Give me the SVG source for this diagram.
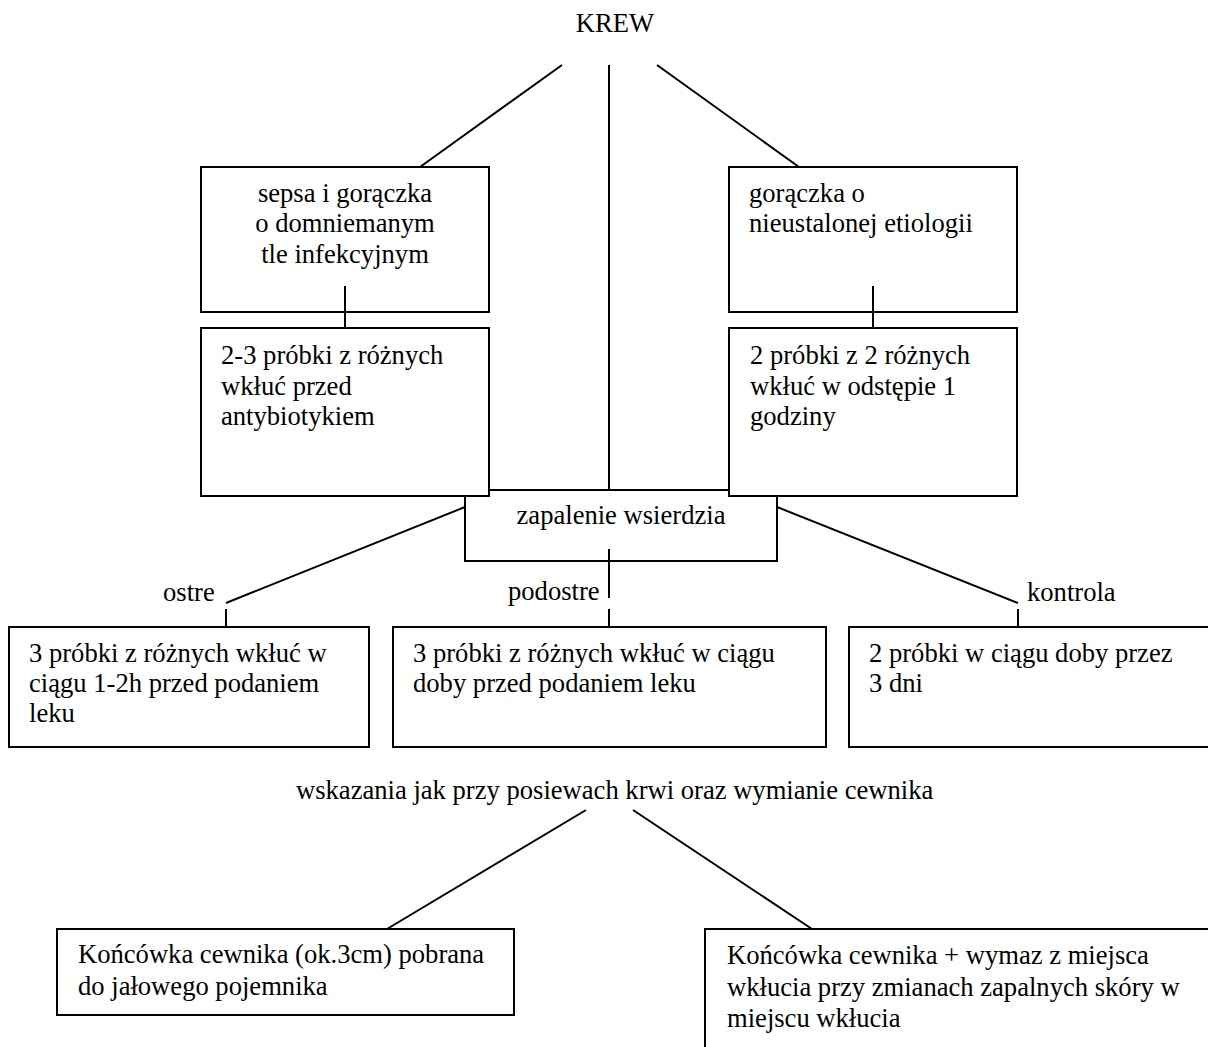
<svg xmlns="http://www.w3.org/2000/svg" width="1208" height="1047" viewBox="0 0 1208 1047">
<style>
text{font-family:"Liberation Serif","Times New Roman",serif;font-size:26.6px;fill:#000}
.b{fill:#fff;stroke:#000;stroke-width:2}
.c line{stroke:#000;stroke-width:2}
.m{text-anchor:middle}
</style>
<rect width="1208" height="1047" fill="#fff"/>
<g class="c" id="connectors">
<line x1="562" y1="65" x2="420" y2="167"/>
<line x1="609" y1="65" x2="609" y2="490"/>
<line x1="657" y1="65" x2="799" y2="167"/>
<line x1="345" y1="286" x2="345" y2="328"/>
<line x1="873" y1="286" x2="873" y2="328"/>
<line x1="465" y1="507" x2="226" y2="603"/>
<line x1="777" y1="507" x2="1018" y2="603"/>
<line x1="226" y1="609" x2="226" y2="627"/>
<line x1="1018" y1="609" x2="1018" y2="627"/>
<line x1="586" y1="810" x2="387" y2="929"/>
<line x1="633" y1="810" x2="812" y2="929"/>
</g>
<g id="krew"><text class="m" x="615" y="32">KREW</text></g>
<g id="zapalenie">
<rect class="b" x="465" y="490" width="312" height="71"/>
<text class="m" x="621" y="524">zapalenie wsierdzia</text>
<line x1="609" y1="549" x2="609" y2="598" stroke="#000" stroke-width="2"/>
<line x1="609" y1="609" x2="609" y2="627" stroke="#000" stroke-width="2"/>
</g>
<g id="sepsa">
<rect class="b" x="201" y="167" width="288" height="145"/>
<text class="m" x="345" y="202">sepsa i gorączka</text>
<text class="m" x="345" y="232">o domniemanym</text>
<text class="m" x="345" y="263">tle infekcyjnym</text>
</g>
<line x1="345" y1="286" x2="345" y2="312" stroke="#000" stroke-width="2"/>
<g id="goraczka">
<rect class="b" x="729" y="167" width="288" height="145"/>
<text x="749" y="202">gorączka o</text>
<text x="749" y="232">nieustalonej etiologii</text>
</g>
<line x1="873" y1="286" x2="873" y2="312" stroke="#000" stroke-width="2"/>
<g id="probki23">
<rect class="b" x="201" y="328" width="288" height="168"/>
<text x="221" y="364">2-3 próbki z różnych</text>
<text x="221" y="395">wkłuć przed</text>
<text x="221" y="425">antybiotykiem</text>
</g>
<g id="probki2">
<rect class="b" x="729" y="328" width="288" height="168"/>
<text x="750" y="364">2 próbki z 2 różnych</text>
<text x="750" y="395">wkłuć w odstępie 1</text>
<text x="750" y="425">godziny</text>
</g>
<g id="ostre"><text x="163" y="601">ostre</text></g>
<g id="podostre"><text x="508" y="600">podostre</text></g>
<g id="kontrola"><text x="1027" y="601">kontrola</text></g>
<g id="boxA">
<rect class="b" x="9" y="627" width="360" height="120"/>
<text x="29" y="662">3 próbki z różnych wkłuć w</text>
<text x="29" y="692">ciągu 1-2h przed podaniem</text>
<text x="29" y="722">leku</text>
</g>
<g id="boxB">
<rect class="b" x="393" y="627" width="433" height="120"/>
<text x="413" y="662">3 próbki z różnych wkłuć w ciągu</text>
<text x="413" y="692">doby przed podaniem leku</text>
</g>
<g id="boxC">
<rect class="b" x="849" y="627" width="370" height="120"/>
<text x="869" y="662">2 próbki w ciągu doby przez</text>
<text x="869" y="692">3 dni</text>
</g>
<g id="wskazania"><text x="296" y="799">wskazania jak przy posiewach krwi oraz wymianie cewnika</text></g>
<g id="boxD">
<rect class="b" x="57" y="929" width="457" height="86"/>
<text x="78" y="963">Końcówka cewnika (ok.3cm) pobrana</text>
<text x="78" y="995">do jałowego pojemnika</text>
</g>
<g id="boxE">
<rect class="b" x="705" y="929" width="520" height="140"/>
<text x="727" y="964">Końcówka cewnika + wymaz z miejsca</text>
<text x="727" y="996">wkłucia przy zmianach zapalnych skóry w</text>
<text x="727" y="1027">miejscu wkłucia</text>
</g>
</svg>
